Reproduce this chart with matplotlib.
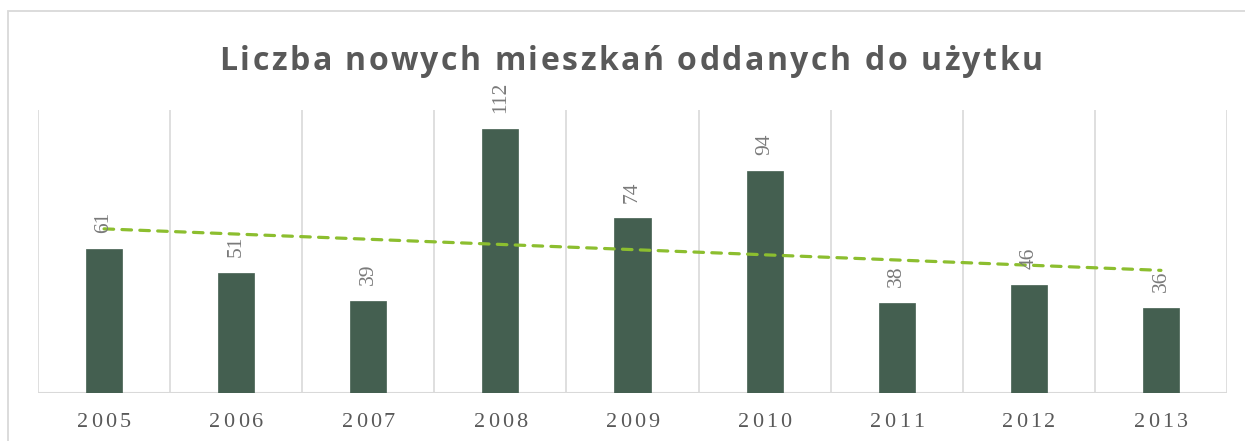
import matplotlib
matplotlib.use("Agg")
import matplotlib.pyplot as plt
from matplotlib.patches import Rectangle
from matplotlib.font_manager import FontProperties
from matplotlib.textpath import TextToPath

# ---- data ----
years = ["2005", "2006", "2007", "2008", "2009", "2010", "2011", "2012", "2013"]
values = [61, 51, 39, 112, 74, 94, 38, 46, 36]
trend_values = [69.6, 52.0]  # trend line at first and last category
title = "Liczba nowych mieszkań oddanych do użytku"

W, H, DPI = 1245, 441, 100
fig = plt.figure(figsize=(W / DPI, H / DPI), dpi=DPI)
fig.patch.set_facecolor("white")

# outer chart border
fig.patches.append(Rectangle((8 / W, -0.1), 1.2, 1 - 11 / H + 0.1, transform=fig.transFigure,
                             fill=False, edgecolor="#D9D9D9", linewidth=1.3))

ax = fig.add_axes([38 / W, (H - 393) / H, (1227 - 38) / W, (393 - 110) / H])
x = list(range(len(years)))
ax.bar(x, values, width=0.273, color="#445F50", edgecolor="#445F50", linewidth=0.5, zorder=3)
ax.set_xlim(-0.5, len(years) - 0.5)
ax.set_ylim(0, 120)

# vertical category gridlines
for b in range(len(years) + 1):
    ax.axvline(b - 0.5, color="#D9D9D9", linewidth=1.2, zorder=1)
ax.axhline(0, color="#D9D9D9", linewidth=1.5, zorder=2)
for s in ax.spines.values():
    s.set_visible(False)
ax.set_yticks([])
ax.set_xticks([])

# trend line
ax.plot([x[0], x[-1]], trend_values, color="#8CBE2F", linewidth=2.3,
        linestyle=(0, (3.0, 2.6)), dash_capstyle="round", zorder=4)

# data labels
for xi, v in zip(x, values):
    ax.annotate(str(v), (xi, v), xytext=(0, 11.5), textcoords="offset points",
                rotation=90, ha="center", va="bottom", fontsize=15.5,
                family="Liberation Serif", color="#7A7A7A", zorder=5)

ttp = TextToPath()


def spaced_text(s, xc_px, yc_px, prop, color, spacing=None, target_width=None):
    scale = DPI / 72.0
    base = ttp.get_text_width_height_descent("||", prop, ismath=False)[0]
    pos = []
    for i in range(len(s) + 1):
        w = ttp.get_text_width_height_descent("|" + s[:i] + "|", prop, ismath=False)[0]
        pos.append((w - base) * scale)
    natural = pos[-1]
    n = len(s)
    if target_width is not None:
        spacing = (target_width - natural) / (n - 1)
    total = natural + spacing * (n - 1)
    x0 = xc_px - total / 2
    for i, c in enumerate(s):
        if c == " ":
            continue
        fig.text((x0 + pos[i] + i * spacing) / W, 1 - yc_px / H, c, fontproperties=prop,
                 color=color, ha="left", va="center_baseline")


# x tick labels
tick_prop = FontProperties(family="Liberation Serif", size=16)
for xi, lab in zip(x, years):
    px = ax.transData.transform((xi, 0))[0]
    spaced_text(lab, px, 420, tick_prop, "#595959", spacing=3.0)

# title
title_prop = FontProperties(family="Open Sans", weight="bold", size=23)
spaced_text(title, 631, 58, title_prop, "#595959", target_width=823)

fig.savefig("out.png", dpi=DPI)
